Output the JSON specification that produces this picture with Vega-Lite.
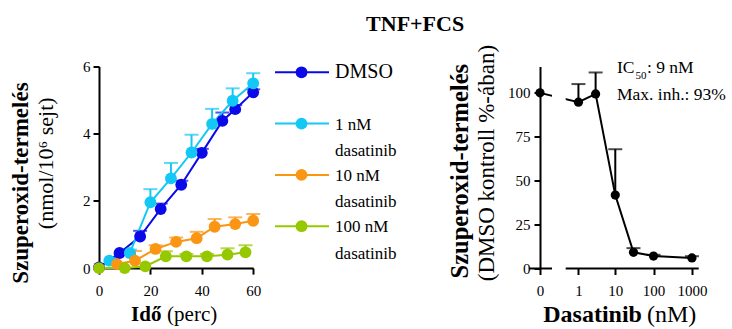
{
  "$schema": "https://vega.github.io/schema/vega-lite/v6.json",
  "autosize": {"type": "pad"},
  "padding": {"left": 10, "top": 12.5, "right": 0, "bottom": 0},
  "background": "white",
  "title": {"text": "TNF+FCS", "font": "Liberation Serif", "fontSize": 22, "fontWeight": "bold", "color": "black", "anchor": "middle", "dx": 47, "offset": 9},
  "config": {
    "view": {"stroke": null},
    "font": "Liberation Serif",
    "axis": {"grid": false, "domainColor": "black", "domainWidth": 2, "tickColor": "black", "tickWidth": 2, "tickSize": 6, "labelFont": "Liberation Serif", "labelFontSize": 15, "labelColor": "black", "labelFlush": false, "labelOverlap": false},
    "text": {"font": "Liberation Serif", "color": "black"}
  },
  "datasets": {
    "kinetics": [
      {"series": "DMSO", "t": 0, "v": 0.02, "hi": null},
      {"series": "DMSO", "t": 8, "v": 0.45, "hi": null},
      {"series": "DMSO", "t": 16, "v": 0.94, "hi": 1.11},
      {"series": "DMSO", "t": 24, "v": 1.76, "hi": 1.92},
      {"series": "DMSO", "t": 32, "v": 2.48, "hi": 2.6},
      {"series": "DMSO", "t": 40, "v": 3.43, "hi": 3.55},
      {"series": "DMSO", "t": 48, "v": 4.38, "hi": 4.63},
      {"series": "DMSO", "t": 53, "v": 4.73, "hi": 4.85},
      {"series": "DMSO", "t": 60, "v": 5.23, "hi": 5.32},
      {"series": "1 nM dasatinib", "t": 4, "v": 0.22, "hi": null},
      {"series": "1 nM dasatinib", "t": 12, "v": 0.45, "hi": 0.55},
      {"series": "1 nM dasatinib", "t": 20, "v": 1.96, "hi": 2.35},
      {"series": "1 nM dasatinib", "t": 28, "v": 2.67, "hi": 3.13},
      {"series": "1 nM dasatinib", "t": 36, "v": 3.44, "hi": 3.97},
      {"series": "1 nM dasatinib", "t": 44, "v": 4.29, "hi": 4.74},
      {"series": "1 nM dasatinib", "t": 52, "v": 4.98, "hi": 5.35},
      {"series": "1 nM dasatinib", "t": 60, "v": 5.5, "hi": 5.8},
      {"series": "10 nM dasatinib", "t": 7, "v": 0.12, "hi": null},
      {"series": "10 nM dasatinib", "t": 14, "v": 0.22, "hi": 0.51},
      {"series": "10 nM dasatinib", "t": 22, "v": 0.57, "hi": 0.68},
      {"series": "10 nM dasatinib", "t": 30, "v": 0.78, "hi": 0.91},
      {"series": "10 nM dasatinib", "t": 38, "v": 0.89, "hi": 1.08},
      {"series": "10 nM dasatinib", "t": 45, "v": 1.23, "hi": 1.46},
      {"series": "10 nM dasatinib", "t": 53, "v": 1.31, "hi": 1.51},
      {"series": "10 nM dasatinib", "t": 60, "v": 1.41, "hi": 1.61},
      {"series": "100 nM dasatinib", "t": 0, "v": 0.0, "hi": null},
      {"series": "100 nM dasatinib", "t": 10, "v": 0.0, "hi": null},
      {"series": "100 nM dasatinib", "t": 18, "v": 0.05, "hi": null},
      {"series": "100 nM dasatinib", "t": 26, "v": 0.35, "hi": 0.5},
      {"series": "100 nM dasatinib", "t": 34, "v": 0.35, "hi": 0.42},
      {"series": "100 nM dasatinib", "t": 42, "v": 0.35, "hi": 0.42},
      {"series": "100 nM dasatinib", "t": 50, "v": 0.4, "hi": 0.59},
      {"series": "100 nM dasatinib", "t": 57, "v": 0.47, "hi": 0.68}
    ],
    "legendItems": [
      {"series": "DMSO", "line1": "DMSO", "line2": ""},
      {"series": "1 nM dasatinib", "line1": "1 nM", "line2": "dasatinib"},
      {"series": "10 nM dasatinib", "line1": "10 nM", "line2": "dasatinib"},
      {"series": "100 nM dasatinib", "line1": "100 nM", "line2": "dasatinib"}
    ],
    "dose": [
      {"c": 0, "v": 100, "hi": null},
      {"c": 1, "v": 94.7, "hi": 105},
      {"c": 3, "v": 99.4, "hi": 111.6},
      {"c": 10, "v": 41.8, "hi": 67.9},
      {"c": 30, "v": 9.2, "hi": 11.6},
      {"c": 100, "v": 7.1, "hi": 7.8},
      {"c": 1000, "v": 6.0, "hi": 7.0}
    ]
  },
  "spacing": 21,
  "bounds": "flush",
  "hconcat": [
    {
      "width": 154.2,
      "height": 201.6,
      "data": {"name": "kinetics"},
      "layer": [
        {
          "transform": [{"filter": "datum.hi != null"}],
          "mark": {"type": "rule", "strokeWidth": 2},
          "encoding": {
            "x": {"field": "t", "type": "quantitative", "scale": {"domain": [0, 60], "nice": false}, "axis": {"values": [0, 20, 40, 60], "format": "d", "title": null, "labelPadding": 9, "labelOverlap": false, "tickCount": 10}},
            "y": {"field": "v", "type": "quantitative", "scale": {"domain": [0, 6], "nice": false}, "axis": {"values": [0, 2, 4, 6], "format": "d", "title": null, "labelPadding": 3, "labelOverlap": false, "tickCount": 10}},
            "y2": {"field": "hi"},
            "color": {"field": "series", "type": "nominal", "scale": {"domain": ["DMSO", "1 nM dasatinib", "10 nM dasatinib", "100 nM dasatinib"], "range": ["#0a0ae8", "#14c8f5", "#fa9614", "#96c800"]}, "legend": null}
          }
        },
        {
          "transform": [{"filter": "datum.hi != null"}],
          "mark": {"type": "tick", "orient": "horizontal", "size": 14, "thickness": 2},
          "encoding": {
            "x": {"field": "t", "type": "quantitative"},
            "y": {"field": "hi", "type": "quantitative"},
            "color": {"field": "series", "type": "nominal", "legend": null}
          }
        },
        {
          "mark": {"type": "line", "strokeWidth": 2},
          "encoding": {
            "x": {"field": "t", "type": "quantitative"},
            "y": {"field": "v", "type": "quantitative"},
            "color": {"field": "series", "type": "nominal", "legend": null}
          }
        },
        {
          "mark": {"type": "point", "filled": true, "size": 140, "opacity": 1},
          "encoding": {
            "x": {"field": "t", "type": "quantitative"},
            "y": {"field": "v", "type": "quantitative"},
            "color": {"field": "series", "type": "nominal", "legend": null}
          }
        },
        {
          "data": {"values": [{"label": "Szuperoxid-termelés"}]},
          "mark": {"type": "text", "angle": 270, "fontWeight": "bold", "fontSize": 23, "align": "center", "baseline": "middle"},
          "encoding": {"x": {"datum": -30.2}, "y": {"datum": 2.53}, "text": {"field": "label"}}
        },
        {
          "data": {"values": [{"label": "(nmol/10⁶ sejt)"}]},
          "mark": {"type": "text", "angle": 270, "fontSize": 22, "align": "center", "baseline": "middle"},
          "encoding": {"x": {"datum": -20.8}, "y": {"datum": 3.12}, "text": {"field": "label"}}
        },
        {
          "data": {"values": [{"label": "Idő"}]},
          "mark": {"type": "text", "fontWeight": "bold", "fontSize": 21, "align": "right", "baseline": "alphabetic"},
          "encoding": {"x": {"datum": 24.3}, "y": {"datum": -1.57}, "text": {"field": "label"}}
        },
        {
          "data": {"values": [{"label": "(perc)"}]},
          "mark": {"type": "text", "fontSize": 21, "align": "left", "baseline": "alphabetic"},
          "encoding": {"x": {"datum": 26.5}, "y": {"datum": -1.57}, "text": {"field": "label"}}
        }
      ]
    },
    {
      "width": 243.3,
      "height": {"step": 51.3},
      "data": {"name": "legendItems"},
      "encoding": {
        "y": {"field": "series", "type": "nominal", "scale": {"type": "point", "domain": ["DMSO", "1 nM dasatinib", "10 nM dasatinib", "100 nM dasatinib"], "padding": 0.113}, "axis": null}
      },
      "layer": [
        {
          "mark": {"type": "rule", "strokeWidth": 2},
          "encoding": {
            "x": {"datum": 0, "scale": {"domain": [0, 1], "nice": false}, "axis": null},
            "x2": {"datum": 0.222},
            "color": {"field": "series", "type": "nominal", "scale": {"domain": ["DMSO", "1 nM dasatinib", "10 nM dasatinib", "100 nM dasatinib"], "range": ["#0a0ae8", "#14c8f5", "#fa9614", "#96c800"]}, "legend": null}
          }
        },
        {
          "mark": {"type": "point", "filled": true, "size": 140, "opacity": 1},
          "encoding": {
            "x": {"datum": 0.109},
            "color": {"field": "series", "type": "nominal", "legend": null}
          }
        },
        {
          "mark": {"type": "text", "align": "left", "baseline": "alphabetic", "dy": 6},
          "encoding": {
            "x": {"datum": 0.247},
            "text": {"field": "line1"},
            "size": {"condition": {"test": "datum.series === 'DMSO'", "value": 20}, "value": 17}
          }
        },
        {
          "mark": {"type": "text", "align": "left", "baseline": "alphabetic", "dy": 32.6, "fontSize": 17},
          "encoding": {
            "x": {"datum": 0.247},
            "text": {"field": "line2"}
          }
        }
      ]
    },
    {
      "width": 158.7,
      "height": 202,
      "data": {"name": "dose"},
      "layer": [
        {
          "data": {"values": [{"segment": "zero"}]},
          "mark": {"type": "rule", "strokeWidth": 2, "color": "black"},
          "encoding": {
            "x": {"datum": -0.1036, "scale": {"type": "symlog", "constant": 0.111, "domain": [0, 1500], "nice": false, "zero": false}, "axis": {"values": [0, 1, 10, 100, 1000], "format": "d", "domain": false, "title": null, "labelPadding": 9, "labelOverlap": false, "labelBound": false, "tickCount": 10}},
            "x2": {"datum": 0.1168},
            "y": {"datum": 0, "scale": {"domain": [0, 115], "nice": false}, "axis": {"values": [0, 25, 50, 75, 100], "format": "d", "title": null, "labelPadding": 4, "labelOverlap": false, "tickCount": 10}}
          }
        },
        {
          "data": {"values": [{"segment": "log"}]},
          "mark": {"type": "rule", "strokeWidth": 2, "color": "black"},
          "encoding": {
            "x": {"datum": 0.4067},
            "x2": {"datum": 1500},
            "y": {"datum": 0}
          }
        },
        {
          "transform": [{"filter": "datum.hi != null"}],
          "mark": {"type": "rule", "strokeWidth": 2, "color": "black"},
          "encoding": {
            "x": {"field": "c", "type": "quantitative"},
            "y": {"field": "v", "type": "quantitative"},
            "y2": {"field": "hi"}
          }
        },
        {
          "transform": [{"filter": "datum.hi != null"}],
          "mark": {"type": "tick", "orient": "horizontal", "size": 14, "thickness": 2, "color": "black"},
          "encoding": {
            "x": {"field": "c", "type": "quantitative"},
            "y": {"field": "hi", "type": "quantitative"}
          }
        },
        {
          "mark": {"type": "line", "strokeWidth": 2, "color": "black"},
          "encoding": {
            "x": {"field": "c", "type": "quantitative"},
            "y": {"field": "v", "type": "quantitative"}
          }
        },
        {
          "data": {"values": [{"gap": "axis break"}]},
          "mark": {"type": "rect", "fill": "white"},
          "encoding": {
            "x": {"datum": 0.1168},
            "x2": {"datum": 0.4067},
            "y": {"datum": 92},
            "y2": {"datum": 102}
          }
        },
        {
          "mark": {"type": "point", "filled": true, "size": 85, "opacity": 1, "color": "black"},
          "encoding": {
            "x": {"field": "c", "type": "quantitative"},
            "y": {"field": "v", "type": "quantitative"}
          }
        },
        {
          "data": {"values": [{"label": "IC"}]},
          "mark": {"type": "text", "fontSize": 17.5, "align": "left", "baseline": "alphabetic"},
          "encoding": {"x": {"datum": 11.09}, "y": {"datum": 111.2}, "text": {"field": "label"}}
        },
        {
          "data": {"values": [{"label": "50"}]},
          "mark": {"type": "text", "fontSize": 11, "align": "left", "baseline": "alphabetic"},
          "encoding": {"x": {"datum": 33.8}, "y": {"datum": 107.8}, "text": {"field": "label"}}
        },
        {
          "data": {"values": [{"label": ": 9 nM"}]},
          "mark": {"type": "text", "fontSize": 17.5, "align": "left", "baseline": "alphabetic"},
          "encoding": {"x": {"datum": 67.5}, "y": {"datum": 111.2}, "text": {"field": "label"}}
        },
        {
          "data": {"values": [{"label": "Max. inh.: 93%"}]},
          "mark": {"type": "text", "fontSize": 17.5, "align": "left", "baseline": "alphabetic"},
          "encoding": {"x": {"datum": 11.09}, "y": {"datum": 96.0}, "text": {"field": "label"}}
        },
        {
          "data": {"values": [{"label": "Szuperoxid-termelés"}]},
          "mark": {"type": "text", "angle": 270, "fontWeight": "bold", "fontSize": 24.5, "align": "center", "baseline": "middle"},
          "encoding": {"x": {"datum": -12.5}, "y": {"datum": 55.4}, "text": {"field": "label"}}
        },
        {
          "data": {"values": [{"label": "(DMSO kontroll %-ában)"}]},
          "mark": {"type": "text", "angle": 270, "fontSize": 23, "align": "center", "baseline": "middle"},
          "encoding": {"x": {"datum": -2.55}, "y": {"datum": 60}, "text": {"field": "label"}}
        },
        {
          "data": {"values": [{"label": "Dasatinib"}]},
          "mark": {"type": "text", "fontWeight": "bold", "fontSize": 24, "align": "right", "baseline": "alphabetic"},
          "encoding": {"x": {"datum": 49.9}, "y": {"datum": -30.5}, "text": {"field": "label"}}
        },
        {
          "data": {"values": [{"label": "(nM)"}]},
          "mark": {"type": "text", "fontSize": 24, "align": "left", "baseline": "alphabetic"},
          "encoding": {"x": {"datum": 67.5}, "y": {"datum": -30.5}, "text": {"field": "label"}}
        }
      ]
    }
  ]
}
